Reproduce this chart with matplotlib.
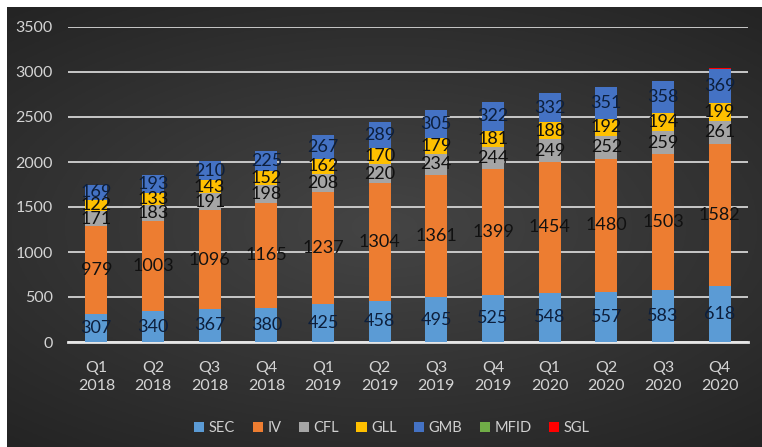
import numpy as np
import matplotlib.pyplot as plt

plt.rcParams['font.family'] = ['Lato', 'DejaVu Sans']

quarters = ['Q1\n2018', 'Q2\n2018', 'Q3\n2018', 'Q4\n2018',
            'Q1\n2019', 'Q2\n2019', 'Q3\n2019', 'Q4\n2019',
            'Q1\n2020', 'Q2\n2020', 'Q3\n2020', 'Q4\n2020']

sec = [307, 340, 367, 380, 425, 458, 495, 525, 548, 557, 583, 618]
iv = [979, 1003, 1096, 1165, 1237, 1304, 1361, 1399, 1454, 1480, 1503, 1582]
cfl = [171, 183, 191, 198, 208, 220, 234, 244, 249, 252, 259, 261]
gll = [122, 133, 143, 152, 162, 170, 179, 181, 188, 192, 194, 199]
gmb = [169, 193, 210, 225, 267, 289, 305, 322, 332, 351, 358, 369]
mfid = [0, 0, 0, 0, 0, 0, 0, 0, 0, 0, 0, 0]
sgl = [0, 0, 0, 0, 0, 0, 0, 0, 0, 6, 5, 12]

names = ['SEC', 'IV', 'CFL', 'GLL', 'GMB', 'MFID', 'SGL']
series = [sec, iv, cfl, gll, gmb, mfid, sgl]
colors = ['#5b9bd5', '#ed7d31', '#a5a5a5', '#ffc000', '#4472c4', '#70ad47', '#ff0000']
labelcol = ['#0d1f3c', '#111111', '#111111', '#111111', '#0d1f3c', None, None]

fig = plt.figure(figsize=(7.62, 4.47), dpi=100)
fig.patch.set_facecolor('white')

# dark radial background, inset a little from the top/left edge
bg = fig.add_axes([7/762, 0, 755/762, 440/447])
yy, xx = np.mgrid[-1:1:200j, -1:1:300j]
r = np.sqrt((xx*0.75)**2 + (yy*0.9)**2)
g = np.clip(0.27 - 0.11*r, 0, 1)
bg.imshow(np.dstack([g, g, g]), aspect='auto', extent=[0, 1, 0, 1])
bg.set_axis_off()

ax = fig.add_axes([68/762, 1-342/447, 680/762, 315/447])
ax.patch.set_alpha(0)

x = np.arange(len(quarters))
bottom = np.zeros(len(quarters))
for name, vals, c, lc in zip(names, series, colors, labelcol):
    vals = np.array(vals, dtype=float)
    ax.bar(x, vals, 0.39, bottom=bottom, color=c, label=name, zorder=3)
    if lc is not None:
        for xi, b, v in zip(x, bottom, vals):
            ax.text(xi, b + v/2, str(int(v)), ha='center', va='center',
                    fontsize=13, color=lc, zorder=4)
    bottom += vals

ax.set_xlim(-0.5, len(quarters) - 0.5)
ax.set_ylim(0, 3500)
ax.set_yticks(range(0, 3501, 500))
ax.set_xticks(x)
ax.set_xticklabels(quarters, linespacing=1.35)
ax.yaxis.grid(True, color='#c8c8c8', lw=1.4, zorder=0)
ax.set_axisbelow(True)
for s in ['top', 'right', 'left']:
    ax.spines[s].set_visible(False)
ax.spines['bottom'].set_color('#e6e6e6')
ax.spines['bottom'].set_linewidth(2)
ax.tick_params(axis='both', length=0, colors='#d4d4d4', labelsize=11.5)
ax.tick_params(axis='y', pad=11)
ax.tick_params(axis='x', pad=14)

leg = fig.legend(loc='center', bbox_to_anchor=(392/762, 1-428/447), ncol=7,
                 frameon=False, fontsize=10.5, handlelength=0.7, handleheight=0.7,
                 handletextpad=0.3, columnspacing=1.2)
for t in leg.get_texts():
    t.set_color('#d0d0d0')

fig.savefig('out.png', dpi=100)
